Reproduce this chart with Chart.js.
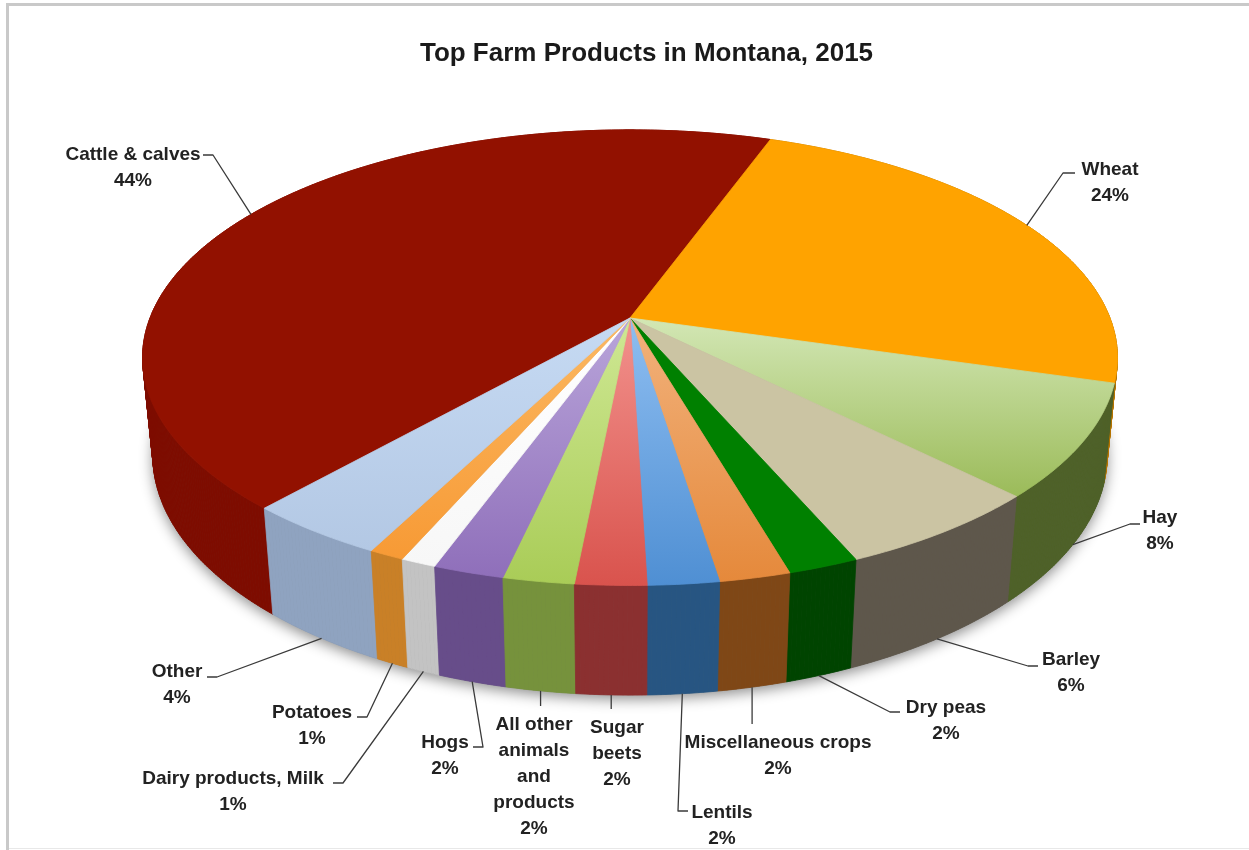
<!DOCTYPE html>
<html>
<head>
<meta charset="utf-8">
<title>Top Farm Products in Montana, 2015</title>
<script src="https://cdn.jsdelivr.net/npm/chart.js@4.4.1/dist/chart.umd.min.js"></script>
<style>
    body { margin: 0; background: #ffffff; }
    #contenitore { width: 1249px; height: 850px; }
</style>
</head>
<body>
<div id="contenitore"><canvas id="torta" width="1249" height="850"></canvas></div>
<script>
var categorie = ['Cattle & calves', 'Wheat', 'Hay', 'Barley', 'Dry peas', 'Miscellaneous crops', 'Lentils',
    'Sugar beets', 'All other animals and products', 'Hogs', 'Dairy products, Milk', 'Potatoes', 'Other'];
var percentuali = [44, 24, 8, 6, 2, 2, 2, 2, 2, 2, 1, 1, 4];

// testo delle etichette spezzato su più righe
var righeEtichette = [['Cattle & calves'], ['Wheat'], ['Hay'], ['Barley'], ['Dry peas'], ['Miscellaneous crops'],
    ['Lentils'], ['Sugar', 'beets'], ['All other', 'animals', 'and', 'products'], ['Hogs'],
    ['Dairy products, Milk'], ['Potatoes'], ['Other']];

// colori: parte chiara e base della faccia superiore, colore del fianco
var coloreChiaro = ['#921100', '#ffa300', '#d3e7b5', '#cbc4a3', '#008000', '#f2b27c', '#8ebef1', '#f2928d',
    '#cfe894', '#b9a5da', '#ffffff', '#fbb862', '#c6daf3'];
var coloreBase = ['#921100', '#ffa300', '#9bbb59', '#cbc4a3', '#008000', '#e5893b', '#4f8fd3', '#d9534d',
    '#a9cc57', '#8f6fba', '#f7f7f7', '#f79a35', '#b3c8e4'];
var coloreLato = ['#7e0c00', '#b57400', '#4e6128', '#5e574b', '#004400', '#7f4716', '#275582', '#8b3030',
    '#76923c', '#674d8a', '#c3c3c3', '#c98027', '#8fa3c0'];

// posizione delle etichette e gomito della linea guida [x, y, fine trattino]
var posEtichette = [[133, 155], [1110, 170], [1160, 518], [1071, 660], [946, 708], [778, 743], [722, 813],
    [617, 728], [534, 725], [445, 743], [233, 779], [312, 713], [177, 672]];
var gomiti = [[213, 155, 203], [1063, 173, 1075], [1130, 524, 1140], [1028, 666, 1038], [890, 712, 900], null,
    [678, 811, 688], null, null, [483, 747, 473], [343, 783, 333], [367, 717, 357], [217, 677, 207]];

// vista prospettica del disco (raggio 1, spessore in unità di raggio)
var vista = { cx: 630, cy: 318, scala: 2448, dist: 5.1, elev: 27.4 * Math.PI / 180, spessore: 0.231 };

function proietta(ang, r, z) {
    var X = r * Math.cos(ang);
    var Y = -r * Math.sin(ang);
    var se = Math.sin(vista.elev), ce = Math.cos(vista.elev);
    var prof = vista.dist + Y * ce - z * se;
    return {
        x: vista.cx + vista.scala * X / prof,
        y: vista.cy - vista.scala * (Y * se + z * ce) / prof,
        prof: prof
    };
}

function pezzoFianco(c, t0, t1) {
    var h = -vista.spessore;
    var a = proietta(t0, 1, 0), b = proietta(t1, 1, 0);
    var d = proietta(t1, 1, h), e = proietta(t0, 1, h);
    c.beginPath();
    c.moveTo(a.x, a.y);
    c.lineTo(b.x, b.y);
    c.lineTo(d.x, d.y);
    c.lineTo(e.x, e.y);
    c.closePath();
    c.fill();
    c.stroke();
}

var torta3d = {
    id: 'torta3d',
    beforeDraw: function (chart) {
        var c = chart.ctx;
        c.save();
        c.fillStyle = '#ffffff';
        c.fillRect(0, 0, chart.width, chart.height);
        c.fillStyle = '#c9c9c9';
        c.fillRect(6, 3, chart.width - 6, 3);
        c.fillRect(6, 3, 3, chart.height - 3);
        c.fillStyle = '#e8e8e8';
        c.fillRect(9, chart.height - 2, chart.width - 9, 1);
        c.restore();
    },
    beforeDatasetsDraw: function (chart) {
        var c = chart.ctx;
        var archi = chart.getDatasetMeta(0).data;
        var passo = Math.PI / 360;

        c.save();

        // ombra sotto il disco
        c.save();
        c.shadowColor = 'rgba(0, 0, 0, 0.45)';
        c.shadowBlur = 14;
        c.shadowOffsetY = 4;
        c.fillStyle = '#777777';
        c.beginPath();
        for (var k = 0; k <= 720; k++) {
            var q = proietta(k * passo, 1, -vista.spessore);
            if (k === 0) c.moveTo(q.x, q.y); else c.lineTo(q.x, q.y);
        }
        c.closePath();
        c.fill();
        c.restore();

        // fianchi: pezzetti ordinati dal più lontano al più vicino
        var pezzi = [];
        archi.forEach(function (arco, i) {
            var a0 = arco.startAngle, a1 = arco.endAngle;
            var n = Math.max(2, Math.ceil((a1 - a0) / passo));
            for (var k = 0; k < n; k++) {
                var t0 = a0 + (a1 - a0) * k / n;
                var t1 = a0 + (a1 - a0) * (k + 1) / n;
                pezzi.push({ i: i, t0: t0, t1: t1, prof: proietta((t0 + t1) / 2, 1, 0).prof });
            }
        });
        pezzi.sort(function (a, b) { return b.prof - a.prof; });
        c.lineWidth = 0.8;
        c.lineJoin = 'round';
        pezzi.forEach(function (p) {
            c.fillStyle = coloreLato[p.i];
            c.strokeStyle = coloreLato[p.i];
            pezzoFianco(c, p.t0, p.t1);
        });

        // facce superiori
        var centro = proietta(0, 0, 0);
        archi.forEach(function (arco, i) {
            var a0 = arco.startAngle, a1 = arco.endAngle;
            var n = Math.max(2, Math.ceil((a1 - a0) / passo));
            var maxY = centro.y + 1;
            c.beginPath();
            c.moveTo(centro.x, centro.y);
            for (var k = 0; k <= n; k++) {
                var p = proietta(a0 + (a1 - a0) * k / n, 1, 0);
                c.lineTo(p.x, p.y);
                if (p.y > maxY) maxY = p.y;
            }
            c.closePath();
            var sfumatura = c.createLinearGradient(0, centro.y, 0, maxY);
            sfumatura.addColorStop(0, coloreChiaro[i]);
            sfumatura.addColorStop(1, coloreBase[i]);
            c.fillStyle = sfumatura;
            c.strokeStyle = sfumatura;
            c.fill();
            c.stroke();
        });

        // linee guida ed etichette
        c.font = 'bold 19px "Liberation Sans", Arial, sans-serif';
        c.textAlign = 'center';
        c.textBaseline = 'middle';
        archi.forEach(function (arco, i) {
            var medio = (arco.startAngle + arco.endAngle) / 2;
            var dietro = -Math.sin(medio) > 0;
            var p = dietro ? proietta(medio, 1, 0) : proietta(medio, 1, -vista.spessore);
            var pos = posEtichette[i];
            var g = gomiti[i];

            c.strokeStyle = '#3a3a3a';
            c.lineWidth = 1.3;
            c.beginPath();
            c.moveTo(p.x, p.y);
            if (g) {
                c.lineTo(g[0], g[1]);
                c.lineTo(g[2], g[1]);
            } else {
                c.lineTo(p.x, pos[1] - 19);
            }
            c.stroke();

            var righe = righeEtichette[i].concat([percentuali[i] + '%']);
            c.fillStyle = '#222222';
            for (var j = 0; j < righe.length; j++) {
                c.fillText(righe[j], pos[0], pos[1] + j * 26);
            }
        });

        c.restore();
        return false;
    }
};

var ctx = document.getElementById('torta');
var chart = new Chart(ctx, {
    type: 'pie',
    data: {
        labels: categorie,
        datasets: [{
            data: percentuali,
            backgroundColor: coloreBase,
            borderWidth: 0
        }]
    },
    options: {
        responsive: false,
        animation: false,
        devicePixelRatio: 1,
        events: [],
        rotation: 221.5,
        layout: { padding: { left: 44 } },
        plugins: {
            legend: { display: false },
            tooltip: { enabled: false },
            title: {
                display: true,
                text: 'Top Farm Products in Montana, 2015',
                color: '#1a1a1a',
                font: { family: '"Liberation Sans", Arial, sans-serif', size: 26, weight: 'bold' },
                padding: { top: 38, bottom: 10 }
            }
        }
    },
    plugins: [torta3d]
});
</script>
</body>
</html>
